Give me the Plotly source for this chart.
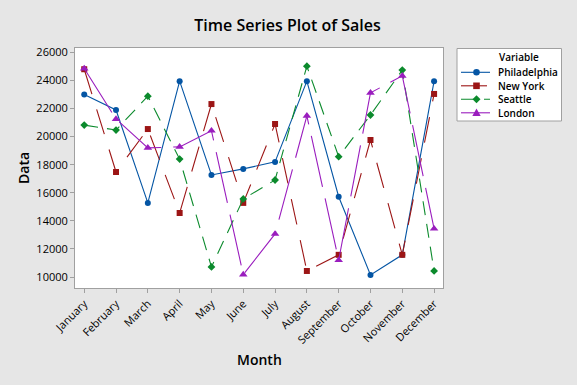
import plotly.graph_objects as go

months = ["January", "February", "March", "April", "May", "June", "July",
          "August", "September", "October", "November", "December"]
philadelphia = [23000, 21900, 15280, 23950, 17270, 17700, 18200, 23950, 15720, 10150, 11580, 23950]
new_york = [24800, 17480, 20540, 14560, 22320, 15280, 20900, 10430, 11580, 19760, 11580, 23040]
seattle = [20820, 20470, 22880, 18400, 10720, 15560, 16910, 25020, 18570, 21540, 24740, 10430]
london = [24850, 21250, 19200, 19270, 20420, 10170, 13070, 21480, 11200, 23120, 24330, 13440]
y_ticks = [10000, 12000, 14000, 16000, 18000, 20000, 22000, 24000, 26000]
series_names = ["Philadelphia", "New York", "Seattle", "London"]
series_values = [philadelphia, new_york, seattle, london]

colors = ["#0455A4", "#9C1515", "#0B8A2C", "#9A1DBE"]
dashes = ["solid", "26px,16px", "14px,9px", "52px,12px"]
symbols = ["circle", "square", "diamond", "triangle-up"]
sizes = [6, 6, 6, 7.5]

W, H = 577, 385
ML, MR, MT, MB = 75, 134, 48, 97
PW, PH = W - ML - MR, H - MT - MB


def px(x):
    return (x - ML) / PW


def py(y):
    return (H - MB - y) / PH


x = list(range(len(months)))

fig = go.Figure()
for name, vals, col, dash, sym, sz in zip(series_names, series_values, colors, dashes, symbols, sizes):
    fig.add_trace(go.Scatter(
        x=x, y=vals, name=name, mode="lines+markers",
        line=dict(color=col, width=1.1, dash=dash),
        marker=dict(symbol=sym, size=sz, color=col, line=dict(width=0)),
        showlegend=False,
    ))

# ---- manual legend (compact, like the reference) ----
shapes = []
annotations = []
lx0, lx1, ly0, ly1 = 457, 561.5, 48.5, 121
shapes.append(dict(type="rect", xref="paper", yref="paper",
                   x0=px(lx0), x1=px(lx1), y0=py(ly1), y1=py(ly0),
                   line=dict(color="#A0A0A0", width=1), fillcolor="white", layer="above"))
annotations.append(dict(text="Variable", xref="paper", yref="paper",
                        x=px(497), y=py(57.5), xanchor="left", yanchor="middle",
                        showarrow=False, font=dict(size=10, color="black",
                                                   family="Open Sans, sans-serif", weight=600)))
row_y = [72.3, 85.8, 99.3, 112.8]
mx = 476.5
for name, col, dash, sym, ry in zip(series_names, colors, dashes, symbols, row_y):
    shapes.append(dict(type="line", xref="paper", yref="paper",
                       x0=px(461), x1=px(490), y0=py(ry), y1=py(ry),
                       line=dict(color=col, width=1.1, dash=dash), layer="above"))
    if sym == "circle":
        r = 3.3
        shapes.append(dict(type="circle", xref="paper", yref="paper",
                           x0=px(mx - r), x1=px(mx + r), y0=py(ry + r), y1=py(ry - r),
                           fillcolor=col, line=dict(width=0), layer="above"))
    elif sym == "square":
        r = 3.3
        shapes.append(dict(type="rect", xref="paper", yref="paper",
                           x0=px(mx - r), x1=px(mx + r), y0=py(ry + r), y1=py(ry - r),
                           fillcolor=col, line=dict(width=0), layer="above"))
    elif sym == "diamond":
        r = 4.0
        path = "M {} {} L {} {} L {} {} L {} {} Z".format(
            px(mx - r), py(ry), px(mx), py(ry - r), px(mx + r), py(ry), px(mx), py(ry + r))
        shapes.append(dict(type="path", xref="paper", yref="paper", path=path,
                           fillcolor=col, line=dict(width=0), layer="above"))
    else:
        r = 4.2
        path = "M {} {} L {} {} L {} {} Z".format(
            px(mx - r), py(ry + 3.2), px(mx), py(ry - 4.2), px(mx + r), py(ry + 3.2))
        shapes.append(dict(type="path", xref="paper", yref="paper", path=path,
                           fillcolor=col, line=dict(width=0), layer="above"))
    annotations.append(dict(text=name, xref="paper", yref="paper",
                            x=px(496), y=py(ry), xanchor="left", yanchor="middle",
                            showarrow=False, font=dict(size=10, color="black",
                                                       family="Open Sans, sans-serif", weight=600)))

# axis titles
annotations.append(dict(text="Month", xref="paper", yref="paper",
                        x=px(259), y=py(359), xanchor="center", yanchor="middle",
                        showarrow=False, font=dict(size=14, color="black",
                                                   family="Open Sans, sans-serif", weight=600)))
annotations.append(dict(text="Data", xref="paper", yref="paper",
                        x=px(23), y=py(168), xanchor="center", yanchor="middle",
                        textangle=-90, showarrow=False,
                        font=dict(size=14, color="black", family="Open Sans, sans-serif", weight=600)))

fig.update_layout(
    width=W, height=H,
    paper_bgcolor="#E6E6E6", plot_bgcolor="white",
    margin=dict(l=ML, r=MR, t=MT, b=MB, autoexpand=False),
    font=dict(family="Liberation Sans, Arial, sans-serif", color="black", size=10),
    title=dict(text="Time Series Plot of Sales", x=287.5 / W, xanchor="center",
               y=1 - 25 / H, yanchor="middle",
               font=dict(size=16, family="Open Sans, sans-serif", color="black", weight=600)),
    showlegend=False,
    shapes=shapes,
    annotations=annotations,
)

fig.update_xaxes(
    tickmode="array", tickvals=x, ticktext=months, tickangle=-45,
    range=[-0.29, 11.28], showgrid=False, zeroline=False,
    showline=True, linecolor="#A0A0A0", linewidth=1, mirror=True,
    ticks="outside", ticklen=4, tickcolor="#A0A0A0",
    tickfont=dict(size=11, family="Open Sans, sans-serif"),
)
fig.update_yaxes(
    tickmode="array", tickvals=y_ticks, ticktext=[str(v) for v in y_ticks],
    range=[9217, 26313], showgrid=False, zeroline=False,
    showline=True, linecolor="#A0A0A0", linewidth=1, mirror=True,
    ticks="outside", ticklen=4, tickcolor="#A0A0A0",
    tickfont=dict(size=11, family="Open Sans, sans-serif"),
)

fig.write_html("out.html", config={"displayModeBar": False},
               post_script="document.body.style.margin='0';document.body.style.overflow='hidden';")
